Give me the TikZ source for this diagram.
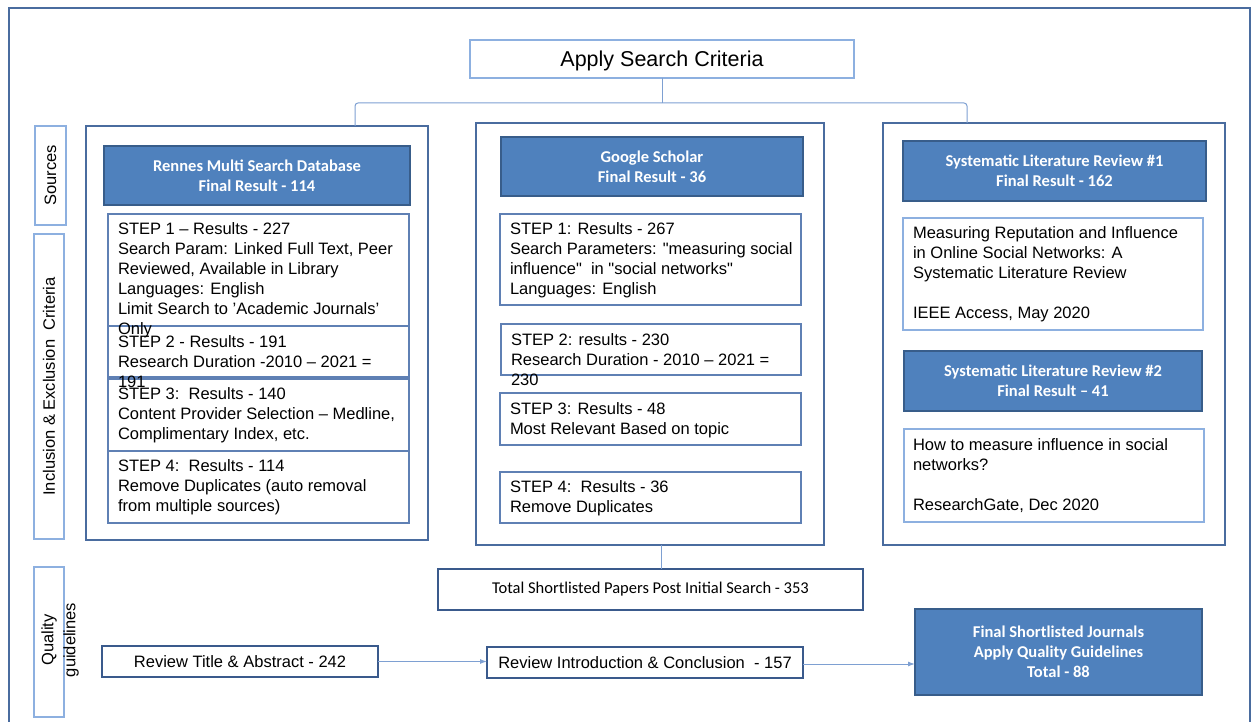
\documentclass[tikz,border=0pt]{standalone}
\usepackage{fontspec}
\setmainfont{Liberation Sans}[Ligatures=TeXOff]
\newfontfamily\calfont{Carlito}
\usetikzlibrary{arrows.meta}
\definecolor{hdrfill}{HTML}{4F81BD}
\definecolor{hdrline}{HTML}{385D8A}
\definecolor{frameline}{HTML}{4A6C9F}
\definecolor{stepline}{HTML}{5F80B4}
\definecolor{lightline}{HTML}{8DB0E0}
\definecolor{connline}{HTML}{7EA0D2}
\definecolor{darkline}{HTML}{3A5A8C}
\tikzset{
 every node/.style={inner sep=0pt, outer sep=0pt},
 colbox/.style={draw=frameline, line width=1.8pt},
 hdr/.style={draw=hdrline, line width=1.8pt, fill=hdrfill, text=white, font=\calfont\bfseries\fontsize{16.5}{20}\selectfont, align=center},
 stepbox/.style={draw=stepline, line width=1.1pt},
 litbox/.style={draw=lightline, line width=1.1pt},
 txt/.style={anchor=north west, align=left, font=\fontsize{16.5}{20}\selectfont},
 lbl/.style={draw=lightline, line width=1.1pt},
 lbltxt/.style={rotate=90, align=center, font=\fontsize{16.5}{22}\selectfont},
 conn/.style={draw=connline, line width=1pt},
 arr/.style={conn, -{Latex[length=7pt,width=5pt]}},
 dbox/.style={draw=darkline, line width=2.2pt}
}
\begin{document}
\begin{tikzpicture}[x=1pt,y=-1pt]
\useasboundingbox (0,0) rectangle (1251,722);
% outer frame
\draw[draw=frameline, line width=1.5pt] (9,722) -- (9,8) -- (1250,8) -- (1250,722);

% title
\node[draw=lightline, line width=1.1pt, minimum width=384pt, minimum height=38pt, text depth=0pt, font=\fontsize{21.5}{24}\selectfont] (asc) at (662,59) {Apply Search Criteria};

% columns
\node[colbox, minimum width=342pt, minimum height=414pt] (lcol) at (257,333) {};
\node[colbox, minimum width=348pt, minimum height=422pt] (mcol) at (650,334) {};
\node[colbox, minimum width=342pt, minimum height=422pt] (rcol) at (1054,334) {};

% bus
\coordinate (busL) at (355,103);
\coordinate (busR) at (967,103);
\draw[conn] (asc.south) -- (asc.south |- busL);
\draw[conn, rounded corners=3pt] (lcol.north -| busL) -- (busL) -- (busR) -- (rcol.north -| busR);

% left column
\node[hdr, minimum width=306pt, minimum height=59pt] (rh) at (257,175.5) {Rennes Multi Search Database\\Final Result - 114};
\node[stepbox, minimum width=301pt, minimum height=112pt] (ls1) at (258.5,270) {};
\node[stepbox, minimum width=301pt, minimum height=51pt] (ls2) at (258.5,351.5) {};
\node[stepbox, minimum width=301pt, minimum height=72pt] (ls3) at (258.5,415) {};
\node[stepbox, minimum width=301pt, minimum height=72pt] (ls4) at (258.5,487) {};
\node[txt] (ls1t) at (118,223) {STEP 1 – Results - 227\\Search Param: Linked Full Text, Peer\\Reviewed, Available in Library\\Languages: English\\Limit Search to ’Academic Journals’\\Only};
\node[txt] (ls2t) at (118,336) {STEP 2 - Results - 191\\Research Duration -2010 – 2021 =\\191};
\node[txt] (ls3t) at (118,388) {STEP 3:\ \ Results - 140\\Content Provider Selection – Medline,\\Complimentary Index, etc.};
\node[txt] (ls4t) at (118,460) {STEP 4:\ \ Results - 114\\Remove Duplicates (auto removal\\from multiple sources)};

% middle column
\node[hdr, minimum width=302pt, minimum height=59pt] (gh) at (652,166.5) {Google Scholar\\Final Result - 36};
\node[stepbox, minimum width=301pt, minimum height=91pt] (ms1) at (650.5,259.5) {};
\node[stepbox, minimum width=300pt, minimum height=51pt] (ms2) at (651,349.5) {};
\node[stepbox, minimum width=301pt, minimum height=52pt] (ms3) at (650.5,419) {};
\node[stepbox, minimum width=301pt, minimum height=51pt] (ms4) at (650.5,497.5) {};
\node[txt] (ms1t) at (510,223) {STEP 1: Results - 267\\Search Parameters: "measuring social\\influence"\ \ in "social networks"\\Languages: English};
\node[txt] (ms2t) at (511,334) {STEP 2: results - 230\\Research Duration - 2010 – 2021 =\\230};
\node[txt] (ms3t) at (510,403) {STEP 3: Results - 48\\Most Relevant Based on topic};
\node[txt] (ms4t) at (510,481) {STEP 4:\ \ Results - 36\\Remove Duplicates};

% right column
\node[hdr, minimum width=303pt, minimum height=60pt] (s1h) at (1054.5,171) {Systematic Literature Review \#1\\Final Result - 162};
\node[litbox, minimum width=300pt, minimum height=112pt] (s1b) at (1053,274) {};
\node[txt] (s1t) at (913,227) {Measuring Reputation and Influence\\in Online Social Networks: A\\Systematic Literature Review\\[20pt]IEEE Access, May 2020};
\node[hdr, minimum width=298pt, minimum height=60pt] (s2h) at (1053,381) {Systematic Literature Review \#2\\Final Result – 41};
\node[litbox, minimum width=300pt, minimum height=93pt] (s2b) at (1054,475.5) {};
\node[txt] (s2t) at (913,439) {How to measure influence in social\\networks?\\[20pt]ResearchGate, Dec 2020};

% side labels
\node[lbl, minimum width=31pt, minimum height=99pt] (src) at (50.5,175.5) {};
\node[lbltxt] (srct) at (src.center) {Sources};
\node[lbl, minimum width=30pt, minimum height=305pt] (inc) at (49,386.5) {};
\node[lbltxt] (inct) at (inc.center) {Inclusion \& Exclusion\ \ Criteria};
\node[lbl, minimum width=30pt, minimum height=150pt] (qual) at (49,642) {};
\node[lbltxt] (qualt) at (60,640) {Quality\\guidelines};

% bottom
\node[dbox, minimum width=425pt, minimum height=41pt, font=\calfont\fontsize{16.5}{20}\selectfont] (total) at (650.5,589.5) {Total Shortlisted Papers Post Initial Search - 353};
\draw[conn] ([xshift=11pt]mcol.south) -- ([xshift=11pt]mcol.south |- total.north);

\node[dbox, minimum width=276pt, minimum height=31pt, font=\fontsize{16.5}{20}\selectfont] (rta) at (240,661.5) {Review Title \& Abstract - 242};
\node[dbox, minimum width=316pt, minimum height=31pt, font=\fontsize{16.5}{20}\selectfont] (ric) at (645,662.5) {Review Introduction \& Conclusion\ \ - 157};
\node[hdr, minimum width=287pt, minimum height=86pt] (fin) at (1058.5,652) {Final Shortlisted Journals\\Apply Quality Guidelines\\Total - 88};

\draw[arr] (rta.east) -- (rta.east -| ric.west);
\draw[arr] ([yshift=-1.5pt]ric.east) -- ([yshift=-1.5pt]ric.east -| fin.west);
\end{tikzpicture}
\end{document}
